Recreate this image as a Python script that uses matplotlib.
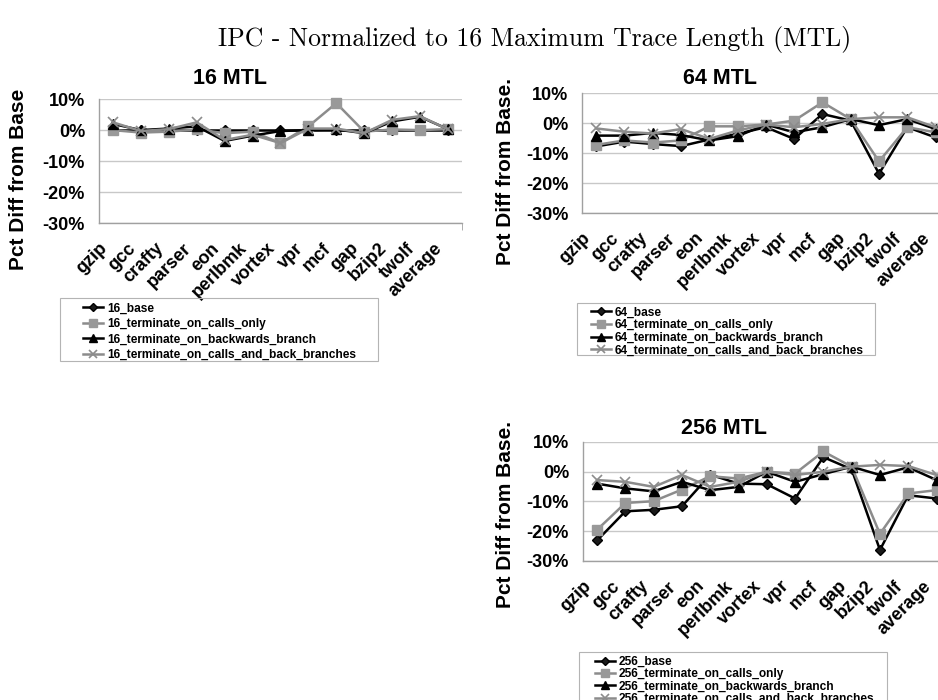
import matplotlib
matplotlib.use("Agg")
import matplotlib.pyplot as plt
from matplotlib.patches import Rectangle

plt.rcParams["font.family"] = ["Liberation Sans", "DejaVu Sans"]
plt.rcParams["font.weight"] = "bold"

categories = ["gzip", "gcc", "crafty", "parser", "eon", "perlbmk", "vortex",
              "vpr", "mcf", "gap", "bzip2", "twolf", "average"]
series_names = ["base", "terminate_on_calls_only",
                "terminate_on_backwards_branch",
                "terminate_on_calls_and_back_branches"]

# percent difference from the 16 MTL base
mtl16_base = [0.0, 0.0, 0.0, 0.0, 0.0, 0.0, 0.0, 0.0, 0.0, 0.0, 0.0, 0.0, 0.0]
mtl16_calls = [0.0, -0.8, -0.5, 0.2, -1.0, -0.5, -4.2, 1.2, 8.7, -0.5, 0.2, 0.0, 0.3]
mtl16_back = [2.0, 0.0, 0.5, 1.2, -3.5, -1.8, -0.3, 0.0, 0.2, -1.0, 2.8, 4.3, 0.3]
mtl16_both = [2.5, -0.3, 0.3, 2.5, -3.2, -1.5, -4.2, 0.5, 0.5, -1.0, 3.3, 4.5, 0.2]

mtl64_base = [-7.8, -6.2, -7.0, -7.7, -5.5, -3.6, -1.4, -5.3, 3.0, 0.8, -16.9, -1.4, -4.8]
mtl64_calls = [-7.3, -5.8, -6.5, -5.8, -1.1, -1.1, -0.5, 0.8, 6.9, 1.3, -12.8, -1.4, -3.1]
mtl64_back = [-4.2, -4.2, -3.3, -4.0, -5.8, -4.4, -0.5, -3.1, -1.4, 1.3, -0.7, 1.3, -2.0]
mtl64_both = [-1.8, -2.9, -3.5, -2.0, -5.3, -2.5, -0.5, -1.4, -0.3, 1.3, 1.9, 1.9, -1.4]

mtl256_base = [-23.1, -13.3, -12.8, -11.6, -1.0, -4.0, -4.2, -9.0, 4.9, 0.8, -26.3, -7.9, -9.0]
mtl256_calls = [-19.5, -10.5, -9.9, -6.0, -1.5, -2.3, 0.0, -0.6, 6.8, 1.7, -20.9, -7.3, -6.2]
mtl256_back = [-4.0, -5.6, -6.6, -3.4, -6.2, -5.1, 0.0, -3.4, -0.8, 1.7, -1.1, 1.5, -2.8]
mtl256_both = [-2.8, -3.4, -5.1, -1.1, -5.1, -3.4, 0.0, -1.1, 0.0, 1.7, 2.3, 1.9, -1.1]

yticks = [10, 0, -10, -20, -30]

styles = [
    dict(color="#000000", marker="D", markersize=5.5, markerfacecolor="#1a1a1a"),
    dict(color="#8c8c8c", marker="s", markersize=7, markerfacecolor="#999999",
         markeredgecolor="#999999"),
    dict(color="#000000", marker="^", markersize=7, markerfacecolor="#000000"),
    dict(color="#8c8c8c", marker="x", markersize=7, markeredgewidth=1.2),
]


def draw_panel(fig, rect, prefix, data, title_xy, ylabel, ylabel_xy):
    ax = fig.add_axes(rect)
    x = list(range(len(categories)))
    handles = []
    for values, style in zip(data, styles):
        (line,) = ax.plot(x, values, lw=1.8, clip_on=False, **style)
        handles.append(line)

    ax.set_xlim(-0.5, len(categories) - 0.5)
    ax.set_ylim(-30, 10)
    ax.set_yticks(yticks)
    ax.set_yticklabels([f"{v}%" for v in yticks], fontsize=13)
    # excel ends each rotated label a little left of the category centre
    ax.set_xticks([i - 0.5 for i in x])
    ax.set_xticklabels(categories, rotation=45, ha="right",
                       rotation_mode="anchor", fontsize=13)
    ax.set_xticks([i - 0.5 for i in range(len(categories) + 1)], minor=True)
    ax.tick_params(axis="x", which="major", length=0, pad=12)
    ax.tick_params(axis="x", which="minor", length=5, color="#a0a0a0")
    ax.tick_params(axis="y", length=0, pad=10)

    ax.grid(axis="y", color="#c8c8c8", lw=1.0)
    ax.set_axisbelow(True)
    for side in ["top", "right"]:
        ax.spines[side].set_visible(False)
    for side in ["left", "bottom"]:
        ax.spines[side].set_color("#a0a0a0")
        ax.spines[side].set_linewidth(1.0)

    ax.set_title(f"{prefix} MTL", fontsize=15.5, fontweight="bold",
                 x=title_xy[0], y=title_xy[1], va="center")
    ax.set_ylabel(ylabel, fontsize=15, fontweight="bold", va="center")
    ax.yaxis.set_label_coords(*ylabel_xy)

    labels = [f"{prefix}_{name}" for name in series_names]
    return handles, labels


def draw_legend(fig, handles, labels, anchor, box, spacing):
    fig.legend(handles, labels, loc="upper left", bbox_to_anchor=anchor,
               frameon=False, borderpad=0, borderaxespad=0, handlelength=1.7,
               handletextpad=0.3, labelspacing=spacing, markerscale=0.75,
               prop={"size": 8.6, "weight": "bold"})
    fig.add_artist(Rectangle(box[:2], box[2], box[3], transform=fig.transFigure,
                             fill=False, ec="#b4b4b4", lw=0.8))


fig = plt.figure(figsize=(9.38, 7.0), dpi=100)

fig.text(0.570, 0.943, "IPC - Normalized to 16 Maximum Trace Length (MTL)",
         ha="center", va="center", fontsize=18.5, family="cmr10")

h, l = draw_panel(fig, [0.1055, 0.6814, 0.387, 0.177], "16",
                  [mtl16_base, mtl16_calls, mtl16_back, mtl16_both],
                  (0.361, 1.097), "Pct Diff from Base", (-0.223, 0.355))
draw_legend(fig, h, l, (0.0885, 0.568), (0.064, 0.4843, 0.339, 0.09), 0.3)

h, l = draw_panel(fig, [0.6205, 0.6957, 0.392, 0.1714], "64",
                  [mtl64_base, mtl64_calls, mtl64_back, mtl64_both],
                  (0.375, 1.05), "Pct Diff from Base.", (-0.209, 0.35))
draw_legend(fig, h, l, (0.630, 0.562), (0.615, 0.493, 0.3177, 0.0743), 0.05)

h, l = draw_panel(fig, [0.6215, 0.1986, 0.392, 0.170], "256",
                  [mtl256_base, mtl256_calls, mtl256_back, mtl256_both],
                  (0.383, 1.042), "Pct Diff from Base.", (-0.212, 0.387))
draw_legend(fig, h, l, (0.634, 0.063), (0.617, -0.017, 0.329, 0.0857), 0.03)

fig.savefig("out.png", dpi=100)
